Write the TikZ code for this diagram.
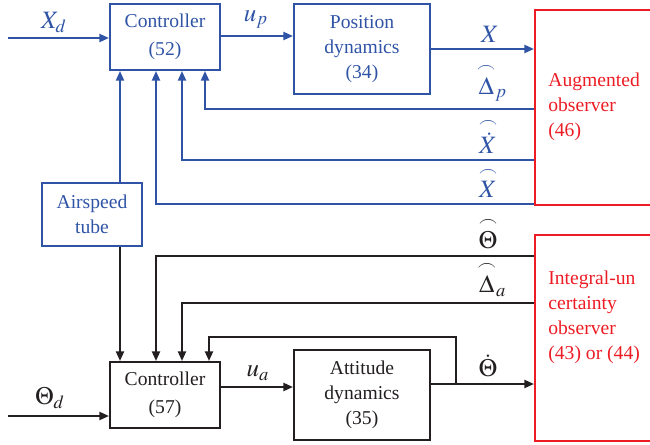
\documentclass[tikz,border=0pt]{standalone}
\usepackage{amsmath}
\usepackage{mathptmx}
\usepackage{fontspec}
\setmainfont{Liberation Serif}
\usetikzlibrary{arrows.meta}
\definecolor{ctrlblue}{RGB}{47,84,166}
\definecolor{obsred}{RGB}{237,28,36}
\definecolor{ctrlblack}{RGB}{35,31,32}

\begin{document}
\begin{tikzpicture}[x=0.5pt,y=-0.5pt,>={Triangle[length=4.8pt,width=4pt]},
 blk/.style={draw,line width=1pt,minimum width=55pt,minimum height=33pt,
   align=center,inner sep=0pt,font=\fontsize{9.8}{12.5}\selectfont},
 obsbox/.style={draw=obsred,line width=1pt,minimum width=80pt,inner sep=0pt},
 obstext/.style={obsred,align=left,inner sep=0pt,font=\fontsize{9.8}{12.5}\selectfont},
 sig/.style={line width=1pt},
 lbl/.style={inner sep=0.5pt,anchor=south,font=\fontsize{12.5}{14}\selectfont}]
\useasboundingbox (0,0) rectangle (650,445);
\clip (0,0) rectangle (650,445);

% position loop
\node[blk,ctrlblue] (c52) at (165,37) {Controller\\[1.5pt](52)};
\node[blk,ctrlblue,minimum width=68pt,minimum height=45pt] (pos) at (362,49) {Position\\dynamics\\(34)};
\node[obsbox,anchor=west,minimum height=97.5pt] (aug) at (534,107.5) {};
\node[obstext,anchor=west] (augtext) at (548,107) {Augmented\\observer\\(46)};
\node[blk,ctrlblue,minimum width=50pt,minimum height=31.5pt] (air) at (92,214.5) {Airspeed\\tube};

% attitude loop
\node[blk,ctrlblack] (c57) at (165,395) {Controller\\[1.5pt](57)};
\node[blk,ctrlblack,minimum width=68pt,minimum height=45pt] (att) at (362,395) {Attitude\\dynamics\\(35)};
\node[obsbox,anchor=north west,minimum height=103pt] (iuo) at (534,234) {};
\node[obstext,anchor=west] (iuotext) at (548,317) {Integral-un\\certainty\\observer\\(43) or (44)};

\coordinate (xdin) at (8,38);
\coordinate (thin) at (8,416);
\coordinate (tap) at (456,384);

\begin{scope}[sig,ctrlblue]
\draw[->] (xdin) -- (xdin -| c52.west);
\draw[->] (c52.east |- 0,36) -- (pos.west |- 0,36);
\draw[->] (pos.east) -- (pos.east -| aug.west);
\draw[->] (aug.west |- 0,109) -| (c52.south -| 205,0);
\draw[->] (aug.west |- 0,160) -| (c52.south -| 182,0);
\draw[->] (aug.west |- 0,204) -| (c52.south -| 156,0);
\draw[->] (air.north -| 120,0) -- (c52.south -| 120,0);
\end{scope}

\begin{scope}[sig,ctrlblack]
\draw[->] (air.south -| 120,0) -- (c57.north -| 120,0);
\draw[->] (iuo.west |- 0,256) -| (c57.north -| 156,0);
\draw[->] (iuo.west |- 0,303) -| (c57.north -| 182,0);
\draw[->] (att.east |- 0,384) -- (iuo.west |- 0,384);
\draw[->] (tap) |- (209,337) -- (c57.north -| 209,0);
\draw[->] (c57.east |- 0,387) -- (att.west |- 0,387);
\draw[->] (thin) -- (thin -| c57.west);
\end{scope}

% signal labels
\node[lbl,ctrlblue] (lxd) at (54,34) {$X_{d}$};
\node[lbl,ctrlblue] (lup) at (256,30) {$u_{p}$};
\node[lbl,ctrlblue] (lx) at (490,44) {$X$};
\node[lbl,ctrlblue] (ldp) at (492,103) {$\overset{\frown}{\Delta}_{p}$};
\node[lbl,ctrlblue] (lxdot) at (488,155) {$\overset{\frown}{\dot X}$};
\node[lbl,ctrlblue] (lxhat) at (488,199) {$\overset{\frown}{X}$};
\node[lbl,ctrlblack] (lth) at (488,250) {$\overset{\frown}{\Theta}$};
\node[lbl,ctrlblack] (lda) at (492,298) {$\overset{\frown}{\Delta}_{a}$};
\node[lbl,ctrlblack] (lthdot) at (488,378) {$\dot\Theta$};
\node[lbl,ctrlblack] (ltd) at (50,410) {$\Theta_{d}$};
\node[lbl,ctrlblack] (lua) at (258,382) {$u_{a}$};
\end{tikzpicture}
\end{document}
